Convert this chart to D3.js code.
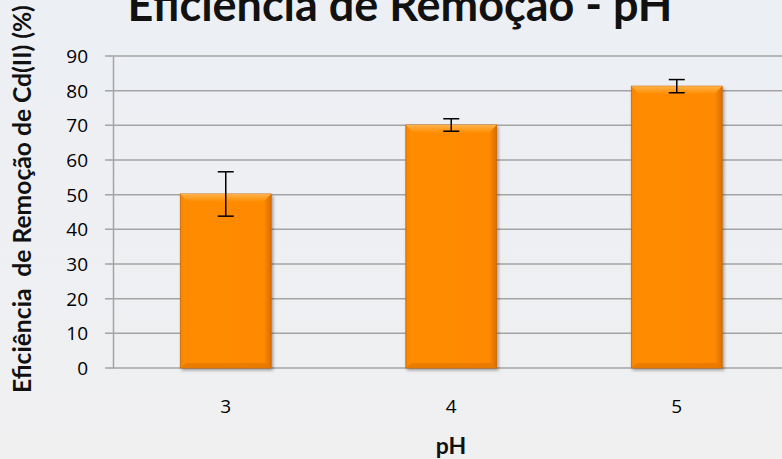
<!DOCTYPE html>
<html>
<head>
<meta charset="utf-8">
<script src="https://cdn.jsdelivr.net/npm/d3@7"></script>
<style>
  body { margin: 0; overflow: hidden; }
  svg { display: block; }
  .tick text { font-family: "Open Sans", sans-serif; fill: #000; }
</style>
</head>
<body>
<div id="vis"></div>
<script>
// chart data
var categories = ['3', '4', '5'];
var values = [50.2, 70.1, 81.3];
var errors = [6.4, 1.8, 1.9];
var yTicks = [0, 10, 20, 30, 40, 50, 60, 70, 80, 90];

var width = 782,
    height = 459,
    margin = {top: 56, right: -7.5, bottom: 91, left: 113},
    drawHeight = height - margin.top - margin.bottom;

var svg = d3.select('#vis').append('svg')
    .attr('width', width)
    .attr('height', height);

var defs = svg.append('defs');

var bg = defs.append('linearGradient').attr('id', 'bg')
    .attr('x1', 0).attr('y1', 0).attr('x2', 0).attr('y2', 1);
bg.append('stop').attr('offset', '0%').attr('stop-color', '#eceff4');
bg.append('stop').attr('offset', '100%').attr('stop-color', '#f0f0f1');

var barGrad = defs.append('linearGradient').attr('id', 'barGrad')
    .attr('x1', 0).attr('y1', 0).attr('x2', 1).attr('y2', 0);
barGrad.append('stop').attr('offset', '0%').attr('stop-color', '#f98500');
barGrad.append('stop').attr('offset', '6%').attr('stop-color', '#ff8c00');
barGrad.append('stop').attr('offset', '92%').attr('stop-color', '#ff8900');
barGrad.append('stop').attr('offset', '100%').attr('stop-color', '#d86d00');

var topGrad = defs.append('linearGradient').attr('id', 'topGrad')
    .attr('x1', 0).attr('y1', 0).attr('x2', 0).attr('y2', 1);
topGrad.append('stop').attr('offset', '0%').attr('stop-color', '#ffb24a');
topGrad.append('stop').attr('offset', '100%').attr('stop-color', '#ff8c00');

var shadow = defs.append('filter').attr('id', 'shadow')
    .attr('x', '-10%').attr('y', '-10%').attr('width', '125%').attr('height', '125%');
shadow.append('feDropShadow')
    .attr('dx', 1.5).attr('dy', 2).attr('stdDeviation', 1.5)
    .attr('flood-color', '#000').attr('flood-opacity', 0.35);

svg.append('rect')
    .attr('width', width)
    .attr('height', height)
    .attr('fill', 'url(#bg)');

var xScale = d3.scaleBand()
    .domain(categories)
    .range([margin.left, width - margin.right])
    .paddingInner(0.597)
    .paddingOuter(0.2985);

var yScale = d3.scaleLinear()
    .domain([0, 90])
    .range([margin.top + drawHeight, margin.top]);

// gridlines
svg.append('g')
    .selectAll('line')
    .data(yTicks)
    .enter().append('line')
    .attr('x1', margin.left - 8)
    .attr('x2', width)
    .attr('y1', function(d) { return yScale(d); })
    .attr('y2', function(d) { return yScale(d); })
    .attr('stroke', '#a4a4a4')
    .attr('stroke-width', 1.5);

// y axis
var yAxis = d3.axisLeft(yScale).tickValues(yTicks).tickSize(0).tickPadding(25);
var yAxisG = svg.append('g')
    .attr('transform', 'translate(' + margin.left + ',0)')
    .call(yAxis);
yAxisG.select('.domain').attr('stroke', '#a4a4a4').attr('stroke-width', 1.5);
yAxisG.selectAll('.tick text').attr('font-size', 19).attr('dy', '0.35em');

// x axis
var xAxis = d3.axisBottom(xScale).tickSize(0).tickPadding(32);
var xAxisG = svg.append('g')
    .attr('transform', 'translate(0,' + yScale(0) + ')')
    .call(xAxis);
xAxisG.select('.domain').remove();
xAxisG.selectAll('.tick text').attr('font-size', 19);

// bars
var bar = svg.append('g')
    .selectAll('g')
    .data(values)
    .enter().append('g')
    .attr('transform', function(d, i) { return 'translate(' + xScale(categories[i]) + ',0)'; });

bar.append('rect')
    .attr('y', function(d) { return yScale(d); })
    .attr('width', xScale.bandwidth())
    .attr('height', function(d) { return yScale(0) - yScale(d); })
    .attr('fill', 'url(#barGrad)')
    .attr('stroke', '#c86500')
    .attr('stroke-width', 0.8)
    .attr('filter', 'url(#shadow)');

// bevel on top
bar.append('path')
    .attr('d', function(d) {
        var y0 = yScale(d), w = xScale.bandwidth();
        return 'M0,' + y0 + 'H' + w + 'L' + (w - 8) + ',' + (y0 + 8) + 'H8Z';
    })
    .attr('fill', 'url(#topGrad)');

// bevel on bottom
bar.append('path')
    .attr('d', function(d) {
        var y0 = yScale(0), w = xScale.bandwidth();
        return 'M0,' + y0 + 'H' + w + 'L' + (w - 6) + ',' + (y0 - 5) + 'H6Z';
    })
    .attr('fill', '#e57800')
    .attr('opacity', 0.8);

// error bars
var err = svg.append('g')
    .selectAll('g')
    .data(values)
    .enter().append('g')
    .attr('stroke', '#000')
    .attr('stroke-width', 1.5);

err.append('line')
    .attr('x1', function(d, i) { return xScale(categories[i]) + xScale.bandwidth() / 2; })
    .attr('x2', function(d, i) { return xScale(categories[i]) + xScale.bandwidth() / 2; })
    .attr('y1', function(d, i) { return yScale(d + errors[i]); })
    .attr('y2', function(d, i) { return yScale(d - errors[i]); });

[1, -1].forEach(function(s) {
    err.append('line')
        .attr('x1', function(d, i) { return xScale(categories[i]) + xScale.bandwidth() / 2 - 8; })
        .attr('x2', function(d, i) { return xScale(categories[i]) + xScale.bandwidth() / 2 + 8; })
        .attr('y1', function(d, i) { return yScale(d + s * errors[i]); })
        .attr('y2', function(d, i) { return yScale(d + s * errors[i]); });
});

// fit a text's font size to a target length
function fitText(sel, target) {
    var size = +sel.attr('font-size');
    var len = sel.node().getComputedTextLength();
    sel.attr('font-size', size * target / len);
}

// titles (title sits partly above the top edge, as in the original)
var title = svg.append('text')
    .attr('x', 400)
    .attr('y', 21)
    .attr('text-anchor', 'middle')
    .attr('font-family', 'Lato, sans-serif')
    .attr('font-weight', 'bold')
    .attr('font-size', 40)
    .attr('fill', '#111')
    .text('Eficiência de Remoção - pH');
fitText(title, 545);

svg.append('text')
    .attr('x', 451)
    .attr('y', 454)
    .attr('text-anchor', 'middle')
    .attr('font-family', 'Lato, sans-serif')
    .attr('font-weight', 'bold')
    .attr('font-size', 23)
    .attr('fill', '#111')
    .text('pH');

var yTitle = svg.append('text')
    .attr('transform', 'translate(31,199) rotate(-90)')
    .attr('text-anchor', 'middle')
    .attr('font-family', 'Lato, sans-serif')
    .attr('font-weight', 'bold')
    .attr('font-size', 19)
    .attr('fill', '#111')
    .style('white-space', 'pre')
    .text('Eficiência  de Remoção de Cd(II) (%)');
fitText(yTitle, 388);
</script>
</body>
</html>
